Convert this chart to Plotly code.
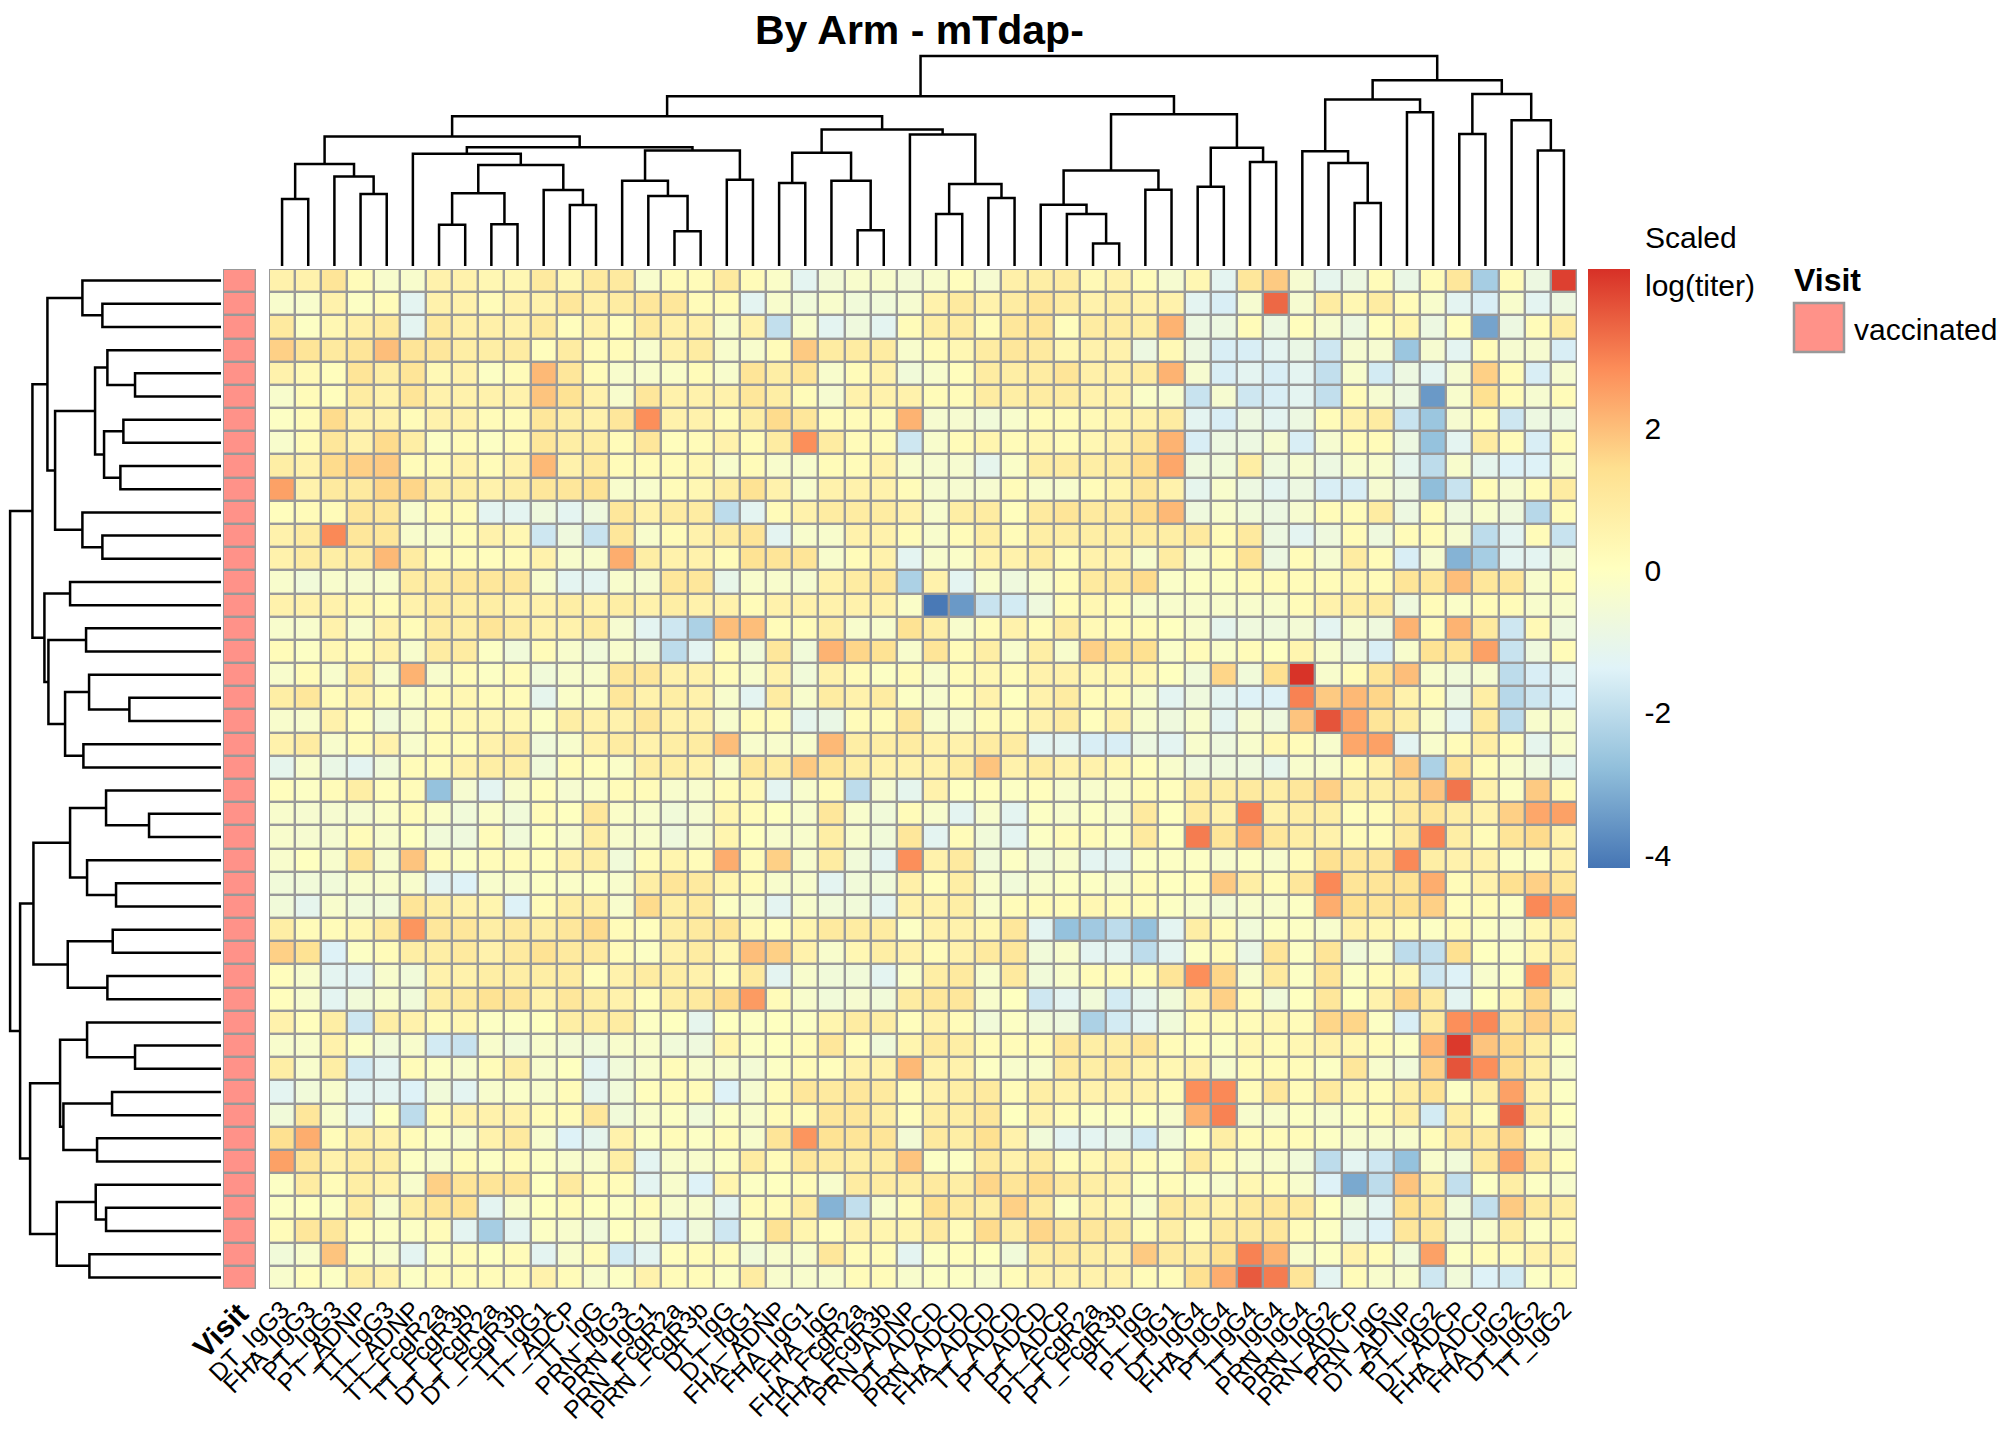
import plotly.graph_objects as go

W, H = 2016, 1440
PAGE_PAD = 8  # default body margin of the html page
FONT = "Liberation Sans, Arial, sans-serif"

# column order as drawn (after clustering)
col_labels = [
    "DT_IgG3", "FHA_IgG3", "PT_IgG3", "PT_ADNP", "TT_IgG3", "TT_ADNP", "TT_FcgR2a", "TT_FcgR3b",
    "DT_FcgR2a", "DT_FcgR3b", "TT_IgG1", "TT_ADCP", "TT_IgG", "PRN_IgG3", "PRN_IgG1", "PRN_FcgR2a",
    "PRN_FcgR3b", "DT_IgG", "DT_IgG1", "FHA_ADNP", "FHA_IgG1", "FHA_IgG", "FHA_FcgR2a", "FHA_FcgR3b",
    "PRN_ADNP", "DT_ADCD", "PRN_ADCD", "FHA_ADCD", "TT_ADCD", "PT_ADCD", "PT_ADCP", "PT_FcgR2a",
    "PT_FcgR3b", "PT_IgG", "PT_IgG1", "DT_IgG4", "FHA_IgG4", "PT_IgG4", "TT_IgG4", "PRN_IgG4",
    "PRN_IgG2", "PRN_ADCP", "PRN_IgG", "DT_ADNP", "PT_IgG2", "DT_ADCP", "FHA_ADCP", "FHA_IgG2",
    "DT_IgG2", "TT_IgG2",
]

visit = ["vaccinated"] * 44
visit_levels = ["vaccinated"]
visit_colors = ["#FF9289"]

# scaled log(titer), one list per sample row (top to bottom)
scaled_log_titer = [
    [0.6, 0.6, 1.2, 0.2, -0.3, -0.3, 0.6, 0.6, 0.4, 0.4, 1.0, 0.4, 1.0, 1.0, -0.3, 0.2, 0.2, 1.0, 0.2, -0.2, -1.2, -0.5, -0.3, -0.3, -0.5,
     -0.3, 0.1, -0.4, 0.7, 0.8, 0.9, 0.3, 0.6, 0.2, -0.4, 0.4, -1.2, 1.1, 1.8, -0.4, -1.1, -0.8, 0.2, -0.9, 0.2, 1.1, -2.4, 0.2, -0.8, 4.0],
    [-0.3, -0.3, 0.6, -0.1, 0.2, -1.2, 0.6, 0.6, 0.2, 0.6, 0.6, 1.1, 0.7, 0.9, 1.1, 1.1, 0.2, 0.2, -1.2, -0.3, -0.6, -0.3, -0.6, -0.6, -0.4,
     0.6, 1.0, 0.6, 0.9, 1.2, 0.9, 0.6, 0.8, 0.6, 0.6, -1.2, -1.5, -0.4, 3.4, -0.4, 0.9, 0.4, 0.9, 0.2, -0.3, -1.2, -1.5, -0.3, -1.2, -0.8],
    [1.0, -0.1, 0.4, 0.7, 1.0, -1.2, 1.0, 0.7, 0.7, 0.6, 1.0, 0.1, 0.6, 0.1, 1.0, 0.7, 0.7, -0.3, 0.6, -1.9, -0.3, -1.2, -0.7, -1.2, 0.2,
     0.8, 0.9, 0.2, 1.1, 1.2, 0.1, 0.9, 0.9, 0.8, 2.2, -0.8, -0.8, 0.2, -0.8, 0.1, -0.4, -0.8, 0.1, 0.5, -0.8, 0.1, -3.3, -0.8, 0.2, 0.9],
    [1.7, 1.2, 1.0, 1.2, 2.0, 1.2, 1.1, 0.8, 0.8, 0.9, 0.1, 0.9, 0.2, 0.2, -0.3, 0.6, 0.9, -0.3, -0.3, 0.2, 1.8, 0.9, 0.9, 0.9, -0.3,
     0.2, 0.4, 0.9, 1.1, 1.0, 0.4, 0.6, 0.6, -0.8, 0.3, -0.8, -1.5, -1.5, -1.2, -0.9, -1.7, -0.4, -0.4, -2.6, -0.4, -1.2, 0.2, -0.4, -0.4, -1.5],
    [0.6, 0.3, 0.1, 1.2, 0.8, 1.2, 0.3, 0.6, -0.1, 0.2, 2.1, 1.1, 0.2, -0.3, -0.3, -0.2, 0.2, -0.3, 1.2, 0.8, 1.2, -0.3, 0.2, 0.6, -0.6,
     -0.3, 0.1, 0.9, 0.8, 0.9, 1.2, 0.7, 0.7, 0.9, 2.2, -0.4, -1.5, -1.2, -1.5, -1.2, -1.9, -0.3, -1.6, -0.8, -1.2, -0.4, 1.7, 0.2, -1.5, -0.4],
    [-0.3, 0.2, 0.1, 0.9, 0.6, 1.2, 0.6, 0.6, 0.6, 0.6, 1.9, 1.3, 0.6, -0.3, 1.1, 0.6, 0.6, 0.6, 1.1, 0.8, 0.2, -0.4, 0.6, 0.6, 0.6,
     0.2, 0.2, 0.9, 0.8, 0.9, 0.9, 0.6, 0.6, -0.2, -0.3, -1.8, -0.4, -1.7, -1.5, -1.2, -1.9, 0.2, -0.4, -0.8, -3.5, -0.3, 1.4, 0.2, -0.4, 0.2],
    [-0.1, 0.2, 1.5, 0.6, 0.6, 0.2, 0.6, 0.6, 0.2, 0.2, 1.1, 0.8, 0.6, 1.1, 2.8, 0.6, 0.6, 0.2, 0.8, 1.5, 1.1, 0.2, 0.2, 0.2, 2.2,
     -0.4, -0.4, -0.6, -0.3, 0.2, 0.2, 0.3, 0.5, 0.6, 0.9, -1.2, -1.5, -0.8, -1.2, -0.8, 0.2, 0.6, 0.9, -1.8, -2.6, -0.4, 0.2, -1.7, -0.8, -0.8],
    [-0.3, 0.2, 1.1, 0.6, 1.5, 0.8, -0.1, 0.2, -0.1, 0.2, 1.1, 0.8, 0.8, 0.2, 1.1, 0.1, 0.2, 0.6, 0.2, 0.9, 2.8, 0.9, 0.2, 0.2, -1.7,
     -0.3, 0.2, 0.5, 0.2, 0.4, 0.2, 0.4, 0.6, 1.2, 2.2, -1.5, -0.8, -0.8, -0.4, -1.5, -0.4, 0.2, 0.2, -0.8, -2.7, -1.2, 0.9, 0.2, -1.5, 0.2],
    [0.8, 0.6, 1.5, 1.7, 1.8, 0.2, 0.2, 0.6, 0.2, 0.6, 2.1, 0.6, 1.0, 0.2, 0.2, 0.2, 0.4, -0.3, 0.2, -0.3, -0.3, 0.2, 0.2, 0.6, -0.3,
     -0.4, -0.4, -1.1, -0.2, 0.8, 0.9, 0.8, 0.9, 1.5, 2.4, -0.7, -0.6, 0.8, -0.7, -0.4, -0.8, -0.3, -0.3, -1.1, -2.0, -0.3, -1.1, -1.4, -1.4, -0.3],
    [2.5, 0.6, 1.0, 1.0, 1.6, 1.6, 0.8, 0.8, 0.6, 0.8, 1.1, 1.1, 1.3, -0.3, -0.3, 0.2, 0.4, 0.8, 1.3, 0.6, -0.3, 0.6, 0.6, 0.6, 0.2,
     -0.4, -0.4, -0.4, 0.2, -0.3, -0.3, 0.2, 0.5, 1.1, 0.6, -1.1, -0.3, -0.8, -1.2, -0.8, -1.5, -1.5, -0.4, -0.8, -2.8, -1.8, 0.2, -0.4, 0.2, 0.9],
    [0.1, 0.2, 0.2, 1.1, 1.1, -0.3, 0.2, 0.2, -1.2, -1.2, -0.7, -1.2, -0.7, 1.1, 0.6, 0.9, 0.9, -2.0, -1.2, 0.2, 0.6, 0.9, 0.9, 0.9, 0.6,
     -0.3, 0.8, 0.9, 0.1, 1.0, 1.2, 1.0, 1.0, 1.5, 2.1, -0.7, -0.3, -0.6, -0.8, -0.4, 0.2, 0.2, 0.9, -0.8, 0.2, -0.7, -0.3, -0.7, -2.1, 0.2],
    [0.6, 0.9, 2.9, 1.1, 1.1, -0.3, -0.3, 0.2, 0.6, 0.4, -1.7, -0.7, -1.8, 1.1, -0.3, 0.2, 0.6, 0.9, 1.2, -1.2, -0.3, -0.3, 0.6, 0.6, 0.2,
     -0.3, 0.2, 0.8, 0.2, 0.8, 0.8, 0.8, 0.8, 0.9, 0.8, 1.0, 0.2, 1.0, -0.8, -1.2, -0.7, 0.2, -0.7, 0.2, 0.2, -0.4, -2.0, -1.2, 0.2, -1.8],
    [0.6, 0.9, 0.8, 0.9, 2.1, 0.9, 0.2, 0.2, 0.1, 0.2, 0.6, -0.3, -0.3, 2.3, 0.8, 0.6, 0.6, 0.2, 1.3, 1.2, 1.2, -0.3, 0.2, 0.6, -1.2,
     -0.3, -0.2, 0.6, 0.6, 0.9, 0.2, 0.6, 0.6, -0.3, 0.9, -0.3, 0.2, 1.3, -0.8, 0.2, -0.4, 0.9, 0.2, -1.5, -0.4, -3.0, -2.4, -1.2, -1.2, -0.7],
    [-0.3, -0.6, -0.3, -0.4, -0.3, 0.9, 0.9, 1.1, 1.1, 1.1, -0.3, -1.2, -1.2, -0.3, -0.4, 1.1, 1.1, -1.0, -0.3, -0.3, -0.4, 0.6, 0.9, 1.1, -2.3,
     0.6, -1.2, -0.3, -0.7, -0.3, 0.2, 1.0, 1.0, 1.5, -0.2, -0.1, -0.1, 0.2, 0.2, 0.2, 0.2, 0.4, 0.2, 1.2, 1.1, 2.0, 1.1, 1.1, -0.3, 0.2],
    [0.6, 0.6, 0.6, 0.4, 0.2, 0.6, 0.9, 0.8, 0.8, 0.6, 0.6, 0.8, 0.6, 0.8, 0.6, 0.8, 0.6, 0.6, 0.2, 0.6, 0.6, 0.6, 0.6, 0.6, -0.2,
     -4.1, -3.5, -1.8, -1.6, -0.7, 0.2, 0.4, 0.2, -0.3, -0.3, -0.3, -0.3, -0.3, -0.3, 0.2, 0.6, 0.8, 0.9, -0.7, 0.2, -0.2, 0.2, 0.2, -0.3, -0.3],
    [-0.3, -0.3, 0.6, -0.3, 0.6, 0.2, 0.9, 0.8, 1.2, 0.9, 0.6, 0.6, 0.9, -0.4, -1.2, -1.7, -2.3, 2.0, 2.0, 0.2, 0.2, 0.8, -0.3, -0.3, 1.3,
     0.8, -0.3, 0.2, 0.6, 0.2, 0.9, 0.3, 0.2, 0.2, 0.0, -0.3, -1.1, -0.7, -0.7, -0.5, -1.2, -0.4, -0.7, 2.2, 0.2, 2.2, 1.0, -1.7, 0.3, -0.7],
    [0.2, -0.1, 0.4, 0.2, 0.6, -0.3, 0.9, 0.9, -0.1, -0.6, 0.2, -0.3, -0.6, -0.3, -0.6, -2.0, -1.2, 0.2, -0.6, 1.1, -0.6, 2.2, 1.6, 1.3, -0.3,
     1.2, 0.2, 0.8, -0.3, 0.8, -0.3, 1.7, 1.4, 1.4, -0.2, 0.2, -0.2, 0.2, 0.0, 0.5, -0.3, -0.7, -1.5, -0.3, 1.3, 1.2, 2.5, -1.8, -0.7, 0.2],
    [-0.3, 0.2, -0.3, 0.9, -0.3, 2.2, -0.3, 0.2, -0.1, 0.2, -0.6, -0.3, -0.3, 1.1, 1.1, 0.6, 0.6, 0.2, -0.3, 0.6, -0.6, 0.6, 0.2, -0.1, 0.2,
     -0.3, 0.2, 0.4, 0.2, 0.6, 0.6, 0.4, 0.4, 0.4, 0.0, -0.6, 1.6, -0.6, 1.4, 4.2, -0.3, 0.2, 1.2, 2.0, -0.3, -0.6, -0.4, -2.0, -1.5, -1.2],
    [0.8, 1.1, 0.2, 0.6, 0.2, -0.2, 0.2, 0.4, 0.2, 0.2, -1.1, -0.2, -0.2, 1.1, 0.6, 0.8, 0.6, -0.3, -1.2, 0.9, -0.3, 0.9, 0.6, 0.9, -0.1,
     -0.3, 0.1, 0.6, 0.0, 0.6, 0.9, 0.2, 0.2, -0.3, -1.2, -0.7, -1.2, -1.4, -1.4, 3.0, 1.8, 2.1, 1.6, 0.6, 0.2, -0.8, 0.8, -2.1, -1.7, -1.4],
    [-0.3, -0.3, 0.6, 0.1, -0.6, -0.3, 0.2, 0.4, 0.4, 0.4, -0.1, 0.8, 0.6, 0.6, 1.1, 0.6, 0.6, -0.3, 0.2, 0.2, -1.1, -0.9, 0.2, 0.2, 1.1,
     -0.3, -0.3, 0.2, 0.2, 0.6, 0.9, 0.1, 0.6, -0.3, -0.7, -0.3, -1.2, -0.4, -0.7, 1.9, 3.7, 2.4, 1.2, 0.8, -0.3, -1.2, 1.0, -2.0, -0.3, -0.3],
    [0.6, 0.9, -0.3, 0.2, 0.6, -0.3, 0.2, 0.2, 0.6, 0.9, -0.6, -0.3, 0.6, 0.9, 0.6, 0.8, 0.9, 2.0, -0.3, -0.3, -0.3, 2.1, 0.8, 0.8, 0.9,
     0.6, 0.6, 0.9, 0.9, -1.2, -1.2, -1.5, -1.5, -0.8, -1.2, -0.3, -0.7, -0.3, 0.4, 0.2, -0.3, 2.4, 2.5, -1.2, -0.3, 0.2, 0.8, 0.2, -1.1, -0.3],
    [-1.1, -0.3, -0.9, -1.2, -0.6, 0.2, 0.2, 0.6, 0.8, 0.8, -0.6, 0.2, 0.1, -0.2, 0.8, 0.8, 0.6, -0.3, 1.1, 0.9, 1.8, 1.2, 0.8, 0.6, 0.6,
     0.6, 0.9, 1.9, 0.6, 0.9, 0.6, 0.6, 0.4, 0.1, -0.3, -0.7, -0.7, -0.7, -1.1, -0.3, -0.3, 0.2, 0.6, 1.8, -2.3, 1.2, 0.2, -0.3, -0.7, -1.1],
    [0.1, -0.1, 0.2, 0.8, 0.1, 0.2, -2.7, -0.4, -1.2, -0.3, 0.1, -0.4, -0.2, 0.2, 0.2, -0.3, -0.3, 0.2, 0.3, -1.2, -0.3, 0.2, -2.0, -0.4, -1.1,
     0.6, 0.0, 0.1, -0.1, 0.1, -0.3, -0.3, -0.2, 0.2, 0.1, 0.8, 0.8, 1.0, 0.8, 1.1, 1.7, 0.8, 0.8, 1.1, 1.9, 3.2, 0.6, -0.1, 1.8, 0.2],
    [-0.3, -0.4, -0.4, -0.4, -0.2, 0.2, -0.2, -0.6, -0.2, -0.6, 0.2, 0.0, 1.1, -0.2, -0.3, -0.6, -0.4, 0.5, 0.2, 0.0, -0.3, 1.1, -0.3, -0.6, 0.2,
     -0.3, -1.2, -0.3, -1.2, -0.1, -0.3, -0.1, -0.3, 1.0, 0.0, 1.0, 0.6, 3.0, 0.6, 0.8, 0.8, 0.1, 0.2, 1.0, 1.2, 0.8, 0.6, 1.7, 2.4, 2.5],
    [-0.3, -0.4, -0.4, 0.2, -0.3, 0.0, -0.6, -0.7, 0.2, -0.6, 0.0, -0.3, 0.8, -0.3, -0.3, -0.7, -0.4, 0.5, 0.0, -0.3, -0.3, 0.8, -0.3, -0.6, 1.1,
     -1.2, 0.2, -0.6, -1.2, -0.1, 0.2, 0.2, -0.1, 1.0, 0.0, 3.1, 1.2, 2.3, 1.1, 0.8, 0.6, 0.2, 0.2, 1.0, 3.0, 0.8, 0.2, 1.2, 1.5, 0.6],
    [-0.3, 0.0, -0.3, 1.2, -0.3, 1.9, 0.2, -0.1, 0.2, 0.2, 0.1, 0.6, 0.8, -0.6, 0.2, 0.5, 0.2, 2.3, 0.2, 1.7, -0.3, 0.9, -0.6, -1.2, 2.8,
     0.6, 1.0, -0.6, -0.1, -0.6, -0.3, -1.2, -1.2, -0.1, -0.1, -0.1, -0.3, -0.1, -0.3, 0.2, 1.4, 1.1, 1.1, 2.9, 0.8, 0.6, 0.6, -0.1, -0.1, 0.6],
    [-0.6, -0.6, -0.6, -0.3, -0.3, -0.3, -1.2, -1.4, -0.3, -0.3, -0.1, -0.2, -0.1, -0.3, 0.8, 1.2, 1.0, 0.5, 0.2, -0.3, -0.3, -1.2, -0.6, -0.6, 0.7,
     0.1, 0.8, -0.3, -0.6, -0.3, -0.1, -0.1, -0.3, 0.2, 0.0, 0.1, 1.8, 0.8, 0.2, 1.1, 2.9, 1.2, 1.2, 1.3, 2.3, 0.2, 0.6, 1.4, 1.7, 1.2],
    [-0.6, -1.1, -0.3, -0.6, -0.6, 1.2, 0.8, 0.6, 0.5, -1.4, 0.2, 0.8, 0.8, -0.3, 1.5, 0.8, 1.0, -0.1, -0.3, -1.2, -0.3, -0.6, -0.6, -1.2, 0.6,
     0.6, 0.8, -0.3, 0.2, 0.2, 0.2, 0.4, 0.2, 0.2, -0.1, -0.3, -0.5, -0.3, -0.3, -0.1, 2.3, 1.4, 1.2, 1.4, 1.7, 0.1, 0.2, -0.1, 2.9, 2.5],
    [0.8, 0.2, 0.2, 0.4, 1.0, 2.7, 1.1, 1.1, 0.8, 1.0, 0.8, 1.1, 1.5, 0.2, 0.1, 0.8, 1.0, 1.2, 0.3, 0.1, 0.5, 1.0, 0.9, 0.9, -0.1,
     0.6, 0.6, 0.4, 1.1, -1.2, -2.7, -2.5, -2.0, -2.7, -1.2, 0.8, 0.2, -0.6, -0.1, -0.1, -0.3, 0.6, 0.4, 0.2, -0.1, 0.2, -0.1, -0.3, 0.4, 0.8],
    [1.7, 1.3, -1.4, -0.1, 0.2, 0.8, 0.8, 1.0, 0.6, 1.0, 1.3, 1.0, 1.0, 0.2, -0.1, 0.6, 0.9, 0.4, 2.0, 1.7, 0.6, -0.3, 0.4, 0.8, 0.6,
     0.2, 0.6, 1.0, 1.1, -0.6, -0.3, -1.2, -1.2, -2.0, -1.2, -0.1, 0.2, -0.9, 1.2, -0.1, 1.2, -0.6, -0.3, -2.0, -1.9, 1.4, 0.0, -0.1, 0.5, 0.9],
    [0.1, -0.3, -1.2, -1.2, -0.3, -0.6, 0.6, 0.6, 0.8, 0.8, 0.8, 0.9, 0.1, 0.6, 0.9, 0.8, 0.6, 0.1, 1.0, -1.2, -0.3, -0.6, -0.6, -1.2, -0.2,
     0.8, 1.0, -0.3, 1.0, -0.6, -0.3, 0.2, 0.2, 0.2, 1.2, 2.8, 1.6, -0.3, 1.0, -0.1, 1.2, -0.1, 0.2, 0.4, -1.7, -1.4, -0.3, -0.1, 2.8, 1.0],
    [0.1, -0.3, -1.2, -0.6, -0.3, -0.6, 0.8, 1.0, 1.3, 1.2, 0.6, 1.1, 0.8, 0.6, 0.1, 0.8, 1.0, 1.5, 2.6, 0.2, -0.3, -0.6, -0.4, -0.6, 0.9,
     1.1, 1.1, -0.3, 0.0, -1.7, -1.2, -0.6, -1.6, -1.1, -0.6, 0.6, 1.7, 0.2, -0.6, 0.0, 1.1, 0.0, 0.6, 1.6, 1.0, -1.2, 0.0, 0.4, 1.6, -0.3],
    [0.6, 0.1, 0.8, -1.7, 0.8, 0.6, 0.2, 0.4, -0.1, -0.1, 0.0, 0.8, 0.8, 0.9, -0.1, 0.0, -1.1, 0.0, -0.1, 0.0, -0.1, 0.5, 0.9, 0.8, 0.1,
     0.6, 0.2, -0.6, -0.1, -0.6, -0.7, -2.3, -1.6, -1.2, -0.6, 0.2, 0.2, 0.2, 0.4, 0.2, 1.6, 1.6, -0.1, -1.5, 1.0, 2.8, 2.9, 1.2, 1.7, 1.2],
    [-0.3, -0.3, 0.6, -0.1, -0.6, -0.3, -1.6, -1.8, -0.3, -0.6, -0.3, -0.5, -0.6, -0.3, -0.3, -0.6, -0.7, 0.5, -0.1, 0.0, 0.2, 1.1, 0.1, -0.6, 0.5,
     1.0, 0.8, 0.2, 0.2, 0.2, 1.1, 0.8, 0.8, 1.2, 0.2, 0.1, -0.1, 0.4, 0.2, 0.4, 0.6, 0.4, 0.2, -0.1, 2.2, 4.1, 1.9, 1.5, 0.8, -0.1],
    [0.8, -0.3, 0.8, -1.6, -1.2, 0.2, -0.1, -0.3, 0.2, 0.8, -0.3, 0.0, -1.2, -0.6, -0.3, 0.2, -0.3, -0.3, -0.5, -0.1, 0.2, 0.1, 0.6, 0.6, 2.1,
     0.6, 0.6, -0.1, -0.3, -0.3, 1.0, 0.8, 1.0, 0.6, 0.4, 0.6, -0.3, 0.2, 0.2, 0.2, -0.1, 1.1, -0.3, -0.6, 1.7, 3.7, 2.8, 1.5, 0.8, -0.3],
    [-1.2, -0.6, -0.3, -1.2, -1.2, -1.4, -0.6, -1.2, -0.3, -0.2, -0.3, 0.2, -1.1, -0.6, 0.1, 0.2, 0.2, -1.4, -0.4, 0.2, 1.1, 1.0, 1.1, 1.0, 0.2,
     0.6, 0.8, 1.0, 0.2, 0.8, 0.6, 0.6, 0.6, 0.6, 0.2, 2.8, 2.9, 0.2, 1.1, 0.2, 1.0, 0.4, 0.2, 0.8, 1.3, -0.1, 0.8, 2.5, 0.6, -0.1],
    [-0.6, 1.1, -0.3, -1.2, 0.0, -2.0, 0.2, 0.6, 0.6, 0.6, 0.2, 0.2, 1.1, -0.6, -0.3, -0.1, -0.6, -0.1, -0.3, 0.2, 0.2, 1.1, 1.1, 0.8, 0.1,
     0.8, 0.8, 1.1, 0.0, 0.6, 0.2, -0.1, -0.1, 0.0, -0.3, 2.2, 3.0, -0.3, -0.3, -0.1, -0.3, -0.1, 0.2, 0.8, -1.6, 0.8, 0.2, 3.4, 0.8, 0.0],
    [1.4, 2.3, 0.2, 0.8, 0.6, 0.2, -0.1, -0.3, 0.6, 1.0, -0.3, -1.4, -1.1, 0.6, -0.1, 0.2, -0.1, 0.2, -0.3, 1.2, 2.7, 1.3, 1.2, 1.2, -0.5,
     1.0, 0.8, 1.4, 0.6, -0.6, -1.2, -1.2, -1.0, -1.6, -0.6, 0.0, 0.8, 0.2, 0.2, 0.2, -0.1, -0.3, -0.3, -0.3, 0.2, 1.0, 1.0, 1.6, -0.1, -0.3],
    [2.5, 1.2, 0.6, 0.9, 0.8, -0.1, -0.3, 0.2, -0.1, 0.2, -0.1, -0.3, -0.3, 0.8, -1.2, -0.3, -0.3, -0.1, 0.9, 0.2, 1.1, 0.9, 0.8, 0.9, 1.9,
     -0.1, -0.1, 1.0, 0.6, 1.0, 0.2, 0.4, 0.6, 0.2, -0.1, 1.0, 0.2, -0.3, -0.3, -0.6, -2.0, -1.2, -1.7, -2.7, -0.3, -0.6, 1.0, 2.5, 1.0, 0.1],
    [-0.1, 0.9, 0.2, 0.8, 0.6, -0.3, 1.7, 1.2, 1.2, 1.2, 0.0, 1.0, 0.2, 0.2, -1.2, -0.3, -1.4, 0.5, -0.1, 0.0, 0.2, -0.3, 0.9, 0.9, 0.8,
     1.0, 0.8, 1.6, 1.2, 1.5, 1.0, 0.8, 0.6, -0.1, 0.2, -0.1, -0.3, 0.4, 0.2, -0.3, -1.4, -3.2, -2.0, 1.9, 0.8, -1.9, -0.1, 0.8, -0.1, -0.3],
    [-0.1, 0.0, -0.1, 0.9, -0.3, 0.8, 1.2, 1.3, -1.2, -0.3, 0.0, 0.2, 0.0, -0.1, 0.2, -0.3, -0.3, -1.2, 0.2, 0.2, 0.9, -3.0, -1.9, -0.3, 0.2,
     1.4, 1.0, 0.8, 1.7, 1.0, -0.1, 0.6, 0.4, -0.3, 1.0, 0.8, 0.6, 1.0, 1.1, 1.0, 0.0, -0.6, -1.2, 1.4, 1.2, -0.6, -1.9, 1.8, 1.0, 0.8],
    [0.2, 1.1, 1.1, 0.1, -0.1, -0.1, 0.2, -1.2, -2.4, -1.2, -0.1, -0.3, -0.6, 0.0, -0.3, -1.4, -0.6, -1.7, -0.1, 1.3, 0.5, 0.1, 0.6, 0.5, 0.5,
     1.0, 0.2, 1.5, 0.8, 1.6, 1.1, 1.1, 1.0, 0.2, 0.8, 0.2, 1.0, 1.0, 1.1, 0.2, -0.1, -1.1, -1.4, 1.1, 1.1, -0.6, -0.3, 0.8, -0.1, 0.2],
    [-0.6, -0.3, 1.9, -0.1, -0.3, -1.2, -0.1, 0.2, 0.0, 0.2, -1.2, -0.3, 0.2, -1.6, -1.2, 0.1, 0.2, 0.2, -0.6, -0.3, -0.3, 1.1, 0.2, 0.2, -1.2,
     -0.1, 0.1, 0.0, -0.6, 0.8, 1.0, 0.8, 0.6, 1.8, 1.0, 0.8, 1.4, 3.0, 2.2, -0.3, -0.1, 0.6, 0.2, -0.6, 2.5, -0.1, 0.2, 0.2, 0.6, 0.6],
    [-0.3, 0.1, -0.1, 0.8, 0.6, -0.1, 0.2, 0.2, 0.2, 0.2, 0.6, 0.2, -0.3, -0.1, 0.6, 0.2, 0.2, -0.1, 0.9, -0.3, -0.3, -0.3, 0.2, 0.2, -0.3,
     -0.1, -0.1, -0.3, 0.2, 0.6, 0.6, 0.6, 0.6, 0.2, 0.2, 1.4, 2.3, 3.6, 3.1, 1.2, -1.2, 0.2, -0.3, -0.3, -1.7, -0.6, -1.4, -1.6, -0.1, 0.2],
]

# dendrogram merges: (first leaf, last leaf of left branch, last leaf, height)
col_merges = [
    (0, 0, 1, 200), (3, 3, 4, 215), (2, 2, 4, 267), (0, 1, 4, 305),
    (6, 6, 7, 123), (8, 8, 9, 125), (6, 7, 9, 217), (11, 11, 12, 182),
    (10, 10, 12, 227), (6, 9, 12, 302), (5, 5, 12, 335), (15, 15, 16, 104),
    (14, 14, 16, 209), (13, 13, 16, 255), (17, 17, 18, 258), (13, 16, 18, 345),
    (5, 12, 18, 355), (0, 4, 18, 387), (19, 19, 20, 248), (22, 22, 23, 107),
    (21, 21, 23, 255), (19, 20, 23, 338), (25, 25, 26, 155), (27, 27, 28, 203),
    (25, 26, 28, 245), (24, 24, 28, 393), (19, 23, 28, 408), (0, 18, 28, 447),
    (31, 31, 32, 67), (30, 30, 32, 155), (29, 29, 32, 183), (33, 33, 34, 228),
    (29, 32, 34, 285), (35, 35, 36, 237), (37, 37, 38, 311), (35, 36, 38, 353),
    (29, 34, 38, 453), (0, 28, 38, 507), (41, 41, 42, 188), (40, 40, 42, 308),
    (39, 39, 42, 343), (43, 43, 44, 459), (39, 42, 44, 497), (45, 45, 46, 394),
    (48, 48, 49, 345), (47, 47, 49, 435), (45, 46, 49, 514), (39, 44, 49, 555),
    (0, 38, 49, 627),
]

row_merges = [
    (1, 1, 2, 356), (0, 0, 2, 416), (4, 4, 5, 258), (3, 3, 5, 341),
    (6, 6, 7, 293), (8, 8, 9, 302), (6, 7, 9, 351), (3, 5, 9, 378),
    (11, 11, 12, 356), (10, 10, 12, 416), (3, 9, 12, 498), (0, 2, 12, 521),
    (13, 13, 14, 453), (15, 15, 16, 405), (18, 18, 19, 275), (17, 17, 19, 396),
    (20, 20, 21, 413), (17, 19, 21, 468), (15, 16, 21, 518), (13, 14, 21, 530),
    (0, 12, 21, 566), (23, 23, 24, 216), (22, 22, 24, 345), (26, 26, 27, 315),
    (25, 25, 27, 402), (22, 24, 27, 453), (28, 28, 29, 325), (30, 30, 31, 341),
    (28, 29, 31, 460), (22, 27, 31, 563), (33, 33, 34, 258), (32, 32, 34, 402),
    (35, 35, 36, 327), (37, 37, 38, 372), (35, 36, 38, 473), (32, 34, 38, 483),
    (40, 40, 41, 345), (39, 39, 41, 376), (42, 42, 43, 395), (39, 41, 43, 493),
    (32, 38, 43, 573), (22, 31, 43, 603), (0, 21, 43, 633),
]

heat_colors = ["#4575B4", "#91BFDB", "#E0F3F8", "#FFFFBF", "#FEE090", "#FC8D59", "#D73027"]
z_lo, z_hi = -4.18, 4.24
cb_ticks = [-4, -2, 0, 2]
cb_ticktext = ["-4", "-2", "0", "2"]
GRID = "#999999"


def px_x(p):
    return (p - PAGE_PAD) / W


def px_y(p):
    return 1 - (p - PAGE_PAD) / H


def dendro_segments(n, merges):
    # leaf i sits at position i, a merged node at the midpoint of its two children
    pos = {(i, i): (float(i), 0.0) for i in range(n)}
    xs, ys = [], []
    for lo, mid, hi, h in merges:
        lc, lh = pos[(lo, mid)]
        rc, rh = pos[(mid + 1, hi)]
        xs += [lc, lc, rc, rc, None]
        ys += [lh, h, h, rh, None]
        pos[(lo, hi)] = ((lc + rc) / 2, h)
    return xs, ys


n_rows = len(scaled_log_titer)
n_cols = len(col_labels)

fig = go.Figure()

fig.add_trace(go.Heatmap(
    z=scaled_log_titer, x=list(range(n_cols)), y=list(range(n_rows)),
    colorscale=[[i / (len(heat_colors) - 1), c] for i, c in enumerate(heat_colors)],
    zmin=z_lo, zmax=z_hi, xgap=2.4, ygap=2.4, hoverinfo="skip",
    colorbar=dict(
        x=px_x(1588), xanchor="left", xpad=0,
        y=px_y(269), yanchor="top", ypad=0,
        len=599, lenmode="pixels", thickness=42, thicknessmode="pixels",
        outlinewidth=0, tickvals=cb_ticks, ticktext=cb_ticktext,
        ticks="outside", ticklen=9, tickcolor="rgba(0,0,0,0)",
        tickfont=dict(size=30, family=FONT, color="black"),
    ),
    xaxis="x", yaxis="y",
))

fig.add_trace(go.Heatmap(
    z=[[visit_levels.index(v)] for v in visit], x=[0], y=list(range(n_rows)),
    colorscale=[[0, visit_colors[0]], [1, visit_colors[0]]], showscale=False,
    xgap=2.4, ygap=2.4, hoverinfo="skip", xaxis="x2", yaxis="y",
))

cx, ch = dendro_segments(n_cols, col_merges)
fig.add_trace(go.Scatter(
    x=cx, y=ch, mode="lines", line=dict(color="black", width=2.5),
    showlegend=False, hoverinfo="skip", xaxis="x3", yaxis="y3",
))

rp, rh = dendro_segments(n_rows, row_merges)
fig.add_trace(go.Scatter(
    x=rh, y=rp, mode="lines", line=dict(color="black", width=2.5),
    showlegend=False, hoverinfo="skip", xaxis="x4", yaxis="y4",
))

col_top = max(m[3] for m in col_merges)
row_top = max(m[3] for m in row_merges)
label_font = dict(size=25, family=FONT, color="black")
hidden = dict(visible=False, automargin=False)

fig.update_layout(
    width=W, height=H,
    margin=dict(l=0, r=0, t=0, b=0, autoexpand=False),
    paper_bgcolor="white", plot_bgcolor="white",
    font=dict(family=FONT, color="black"),
    showlegend=False,
    xaxis=dict(domain=[px_x(269), px_x(1577)], range=[-0.5, n_cols - 0.5],
               tickvals=list(range(n_cols)), ticktext=col_labels, tickangle=-45,
               ticks="", showgrid=False, zeroline=False, showline=False,
               automargin=False, tickfont=label_font, anchor="y"),
    yaxis=dict(domain=[px_y(1289), px_y(269)], range=[n_rows - 0.5, -0.5],
               anchor="x", **hidden),
    xaxis2=dict(domain=[px_x(223), px_x(256)], range=[-0.5, 0.5],
                tickvals=[0], ticktext=["<b>Visit</b>"], tickangle=-45,
                ticks="", showgrid=False, zeroline=False, showline=False,
                automargin=False,
                tickfont=dict(size=30, family=FONT, color="black"), anchor="y"),
    xaxis3=dict(domain=[px_x(269), px_x(1577)], range=[-0.5, n_cols - 0.5],
                anchor="y3", **hidden),
    yaxis3=dict(domain=[px_y(266), px_y(54)], range=[0, col_top * 1.01],
                anchor="x3", **hidden),
    xaxis4=dict(domain=[px_x(8), px_x(221)], range=[row_top * 1.01, 0],
                anchor="y4", **hidden),
    yaxis4=dict(domain=[px_y(1289), px_y(269)], range=[n_rows - 0.5, -0.5],
                anchor="x4", **hidden),
)

# grey cell borders showing through the gaps
fig.add_shape(type="rect", xref="x", yref="y", x0=-0.5, x1=n_cols - 0.5,
              y0=-0.5, y1=n_rows - 0.5, fillcolor=GRID,
              line=dict(color=GRID, width=2), layer="below")
fig.add_shape(type="rect", xref="x2", yref="y", x0=-0.5, x1=0.5,
              y0=-0.5, y1=n_rows - 0.5, fillcolor=GRID,
              line=dict(color=GRID, width=2), layer="below")

# Visit legend key
fig.add_shape(type="rect", xref="paper", yref="paper",
              x0=px_x(1794), x1=px_x(1844), y0=px_y(352), y1=px_y(303),
              fillcolor=visit_colors[0], line=dict(color=GRID, width=2.5))

fig.add_annotation(x=px_x(919), y=px_y(30), xref="paper", yref="paper",
                   text="<b>By Arm - mTdap-</b>", showarrow=False,
                   font=dict(size=41, family=FONT, color="black"),
                   xanchor="center", yanchor="middle")
fig.add_annotation(x=px_x(1643), y=px_y(238), xref="paper", yref="paper",
                   text="Scaled", showarrow=False,
                   font=dict(size=30, family=FONT, color="black"),
                   xanchor="left", yanchor="middle")
fig.add_annotation(x=px_x(1643), y=px_y(285), xref="paper", yref="paper",
                   text="log(titer)", showarrow=False,
                   font=dict(size=30, family=FONT, color="black"),
                   xanchor="left", yanchor="middle")
fig.add_annotation(x=px_x(1792), y=px_y(280), xref="paper", yref="paper",
                   text="<b>Visit</b>", showarrow=False,
                   font=dict(size=32, family=FONT, color="black"),
                   xanchor="left", yanchor="middle")
fig.add_annotation(x=px_x(1852), y=px_y(329), xref="paper", yref="paper",
                   text=visit_levels[0], showarrow=False,
                   font=dict(size=30, family=FONT, color="black"),
                   xanchor="left", yanchor="middle")

fig.write_html("out.html")
